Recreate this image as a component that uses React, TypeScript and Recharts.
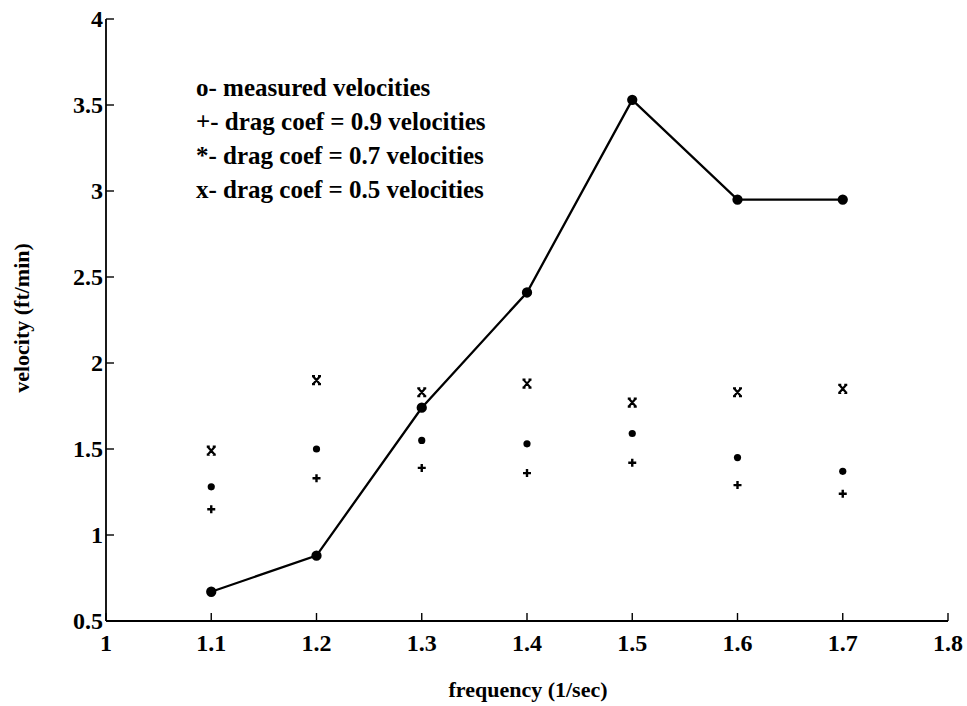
import React from 'react';
import { ComposedChart, Line, Scatter, XAxis, YAxis } from 'recharts';

const freqs = [1.1, 1.2, 1.3, 1.4, 1.5, 1.6, 1.7];
const measured = [0.67, 0.88, 1.74, 2.41, 3.53, 2.95, 2.95];
const drag09 = [1.15, 1.33, 1.39, 1.36, 1.42, 1.29, 1.24];
const drag07 = [1.28, 1.5, 1.55, 1.53, 1.59, 1.45, 1.37];
const drag05 = [1.49, 1.9, 1.83, 1.88, 1.77, 1.83, 1.85];

const xTicks = [1, 1.1, 1.2, 1.3, 1.4, 1.5, 1.6, 1.7, 1.8];
const yTicks = [0.5, 1, 1.5, 2, 2.5, 3, 3.5, 4];

const legendLines = [
  'o- measured velocities',
  '+- drag coef = 0.9 velocities',
  '*- drag coef = 0.7 velocities',
  'x- drag coef = 0.5 velocities',
];

const FONT = '"Liberation Serif", "DejaVu Serif", serif';
const TICK_LEN = 8;

const toPts = (vals: number[]) => freqs.map((f, i) => ({ f, v: vals[i] }));

const labelStyle = { fontFamily: FONT, fontSize: 24, fontWeight: 'bold' as const, fill: '#000' };

function LeftTick({ x, y, payload }: any) {
  return (
    <g>
      <line x1={x} y1={y} x2={x + TICK_LEN} y2={y} stroke="#000" strokeWidth={1.4} />
      <text x={x - 3} y={y} dy={8} textAnchor="end" {...labelStyle}>{String(payload.value)}</text>
    </g>
  );
}

function RightTick({ x, y }: any) {
  return <line x1={x} y1={y} x2={x - TICK_LEN} y2={y} stroke="#000" strokeWidth={1.4} />;
}

function BottomTick({ x, y, payload }: any) {
  return (
    <g>
      <line x1={x} y1={y} x2={x} y2={y - TICK_LEN} stroke="#000" strokeWidth={1.4} />
      <text x={x} y={y} dy={30} textAnchor="middle" {...labelStyle}>{String(payload.value)}</text>
    </g>
  );
}

function TopTick({ x, y }: any) {
  return <line x1={x} y1={y} x2={x} y2={y + TICK_LEN} stroke="#000" strokeWidth={1.4} />;
}

const PlusShape = ({ cx, cy }: any) => (
  <path d={`M${cx - 4},${cy}H${cx + 4}M${cx},${cy - 4}V${cy + 4}`} stroke="#000" strokeWidth={2.4} fill="none" />
);

const StarShape = ({ cx, cy }: any) => <circle cx={cx} cy={cy} r={3.6} fill="#000" />;

const CrossShape = ({ cx, cy }: any) => (
  <path d={`M${cx - 3.5},${cy - 4}L${cx + 3.5},${cy + 4}M${cx + 3.5},${cy - 4}L${cx - 3.5},${cy + 4}M${cx - 4.5},${cy - 4}H${cx - 1.5}M${cx + 1.5},${cy - 4}H${cx + 4.5}M${cx - 4.5},${cy + 4}H${cx - 1.5}M${cx + 1.5},${cy + 4}H${cx + 4.5}`}
    stroke="#000" strokeWidth={2.2} fill="none" />
);

export default function App() {
  return (
    <div style={{ position: 'absolute', left: 0, top: 0, width: 967, height: 706, background: '#fff' }}>
      <ComposedChart width={967} height={706} margin={{ top: 19, right: 19, bottom: 0, left: 26 }}>
        <XAxis
          xAxisId="b" dataKey="f" type="number" domain={[1, 1.8]} ticks={xTicks} allowDataOverflow
          height={85} tickSize={0} tickMargin={0} tickLine={false} interval={0}
          axisLine={{ stroke: '#000', strokeWidth: 1.8 }} tick={<BottomTick />}
        />
        <XAxis
          xAxisId="t" orientation="top" type="number" domain={[1, 1.8]} ticks={xTicks} allowDataOverflow
          height={0} tickSize={0} tickMargin={0} tickLine={false} interval={0}
          axisLine={{ stroke: '#000', strokeWidth: 1.8 }} tick={<TopTick />}
        />
        <YAxis
          yAxisId="l" type="number" domain={[0.5, 4]} ticks={yTicks} allowDataOverflow
          width={80} tickSize={0} tickMargin={0} tickLine={false} interval={0}
          axisLine={{ stroke: '#000', strokeWidth: 1.8 }} tick={<LeftTick />}
        />
        <YAxis
          yAxisId="r" orientation="right" type="number" domain={[0.5, 4]} ticks={yTicks} allowDataOverflow
          width={0} tickSize={0} tickMargin={0} tickLine={false} interval={0}
          axisLine={{ stroke: '#000', strokeWidth: 1.8 }} tick={<RightTick />}
        />
        <Line
          xAxisId="b" yAxisId="l" data={toPts(measured)} dataKey="v" type="linear"
          stroke="#000" strokeWidth={2.3} dot={{ r: 4, fill: '#000', stroke: '#000' }}
          activeDot={false} isAnimationActive={false}
        />
        <Scatter xAxisId="b" yAxisId="l" data={toPts(drag09)} dataKey="v" shape={<PlusShape />} isAnimationActive={false} />
        <Scatter xAxisId="b" yAxisId="l" data={toPts(drag07)} dataKey="v" shape={<StarShape />} isAnimationActive={false} />
        <Scatter xAxisId="b" yAxisId="l" data={toPts(drag05)} dataKey="v" shape={<CrossShape />} isAnimationActive={false} />
      </ComposedChart>

      {/* legend written as plain text inside the plot, like the original */}
      <div style={{ position: 'absolute', left: 196, top: 71, fontFamily: FONT, fontSize: 25, fontWeight: 'bold', lineHeight: '34px', color: '#000' }}>
        {legendLines.map(t => <div key={t}>{t}</div>)}
      </div>

      <div style={{
        position: 'absolute', left: 22, top: 318, transform: 'translate(-50%, -50%) rotate(-90deg)',
        fontFamily: FONT, fontSize: 22, fontWeight: 'bold', whiteSpace: 'nowrap',
      }}>
        velocity (ft/min)
      </div>
      <div style={{
        position: 'absolute', left: 528, top: 690, transform: 'translate(-50%, -50%)',
        fontFamily: FONT, fontSize: 22, fontWeight: 'bold', whiteSpace: 'nowrap',
      }}>
        frequency (1/sec)
      </div>
    </div>
  );
}
